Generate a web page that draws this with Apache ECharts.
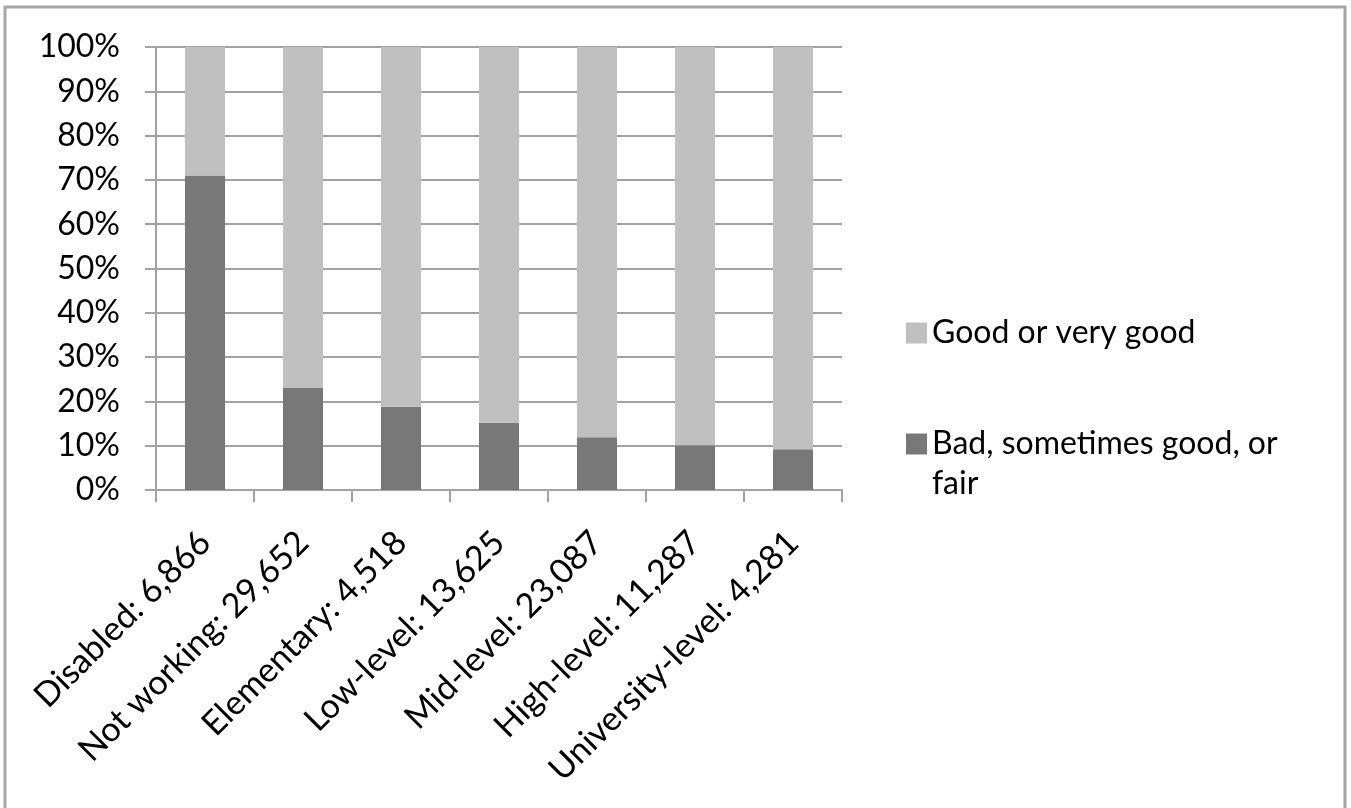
<!DOCTYPE html>
<html>
<head>
<meta charset="utf-8">
<script src="https://cdn.jsdelivr.net/npm/echarts@6/dist/echarts.min.js"></script>
<style>
html,body{margin:0;padding:0;background:#fff;}
#chart{width:1351px;height:808px;}
</style>
</head>
<body>
<div id="chart"></div>
<script>
const categories = ['Disabled: 6,866', 'Not working: 29,652', 'Elementary: 4,518', 'Low-level: 13,625', 'Mid-level: 23,087', 'High-level: 11,287', 'University-level: 4,281'];
const badValues = [71.0, 23.0, 18.8, 15.2, 11.9, 10.1, 9.2];
const goodValues = [29.0, 77.0, 81.2, 84.8, 88.1, 89.9, 90.8];
const seriesNames = ['Bad, sometimes good, or fair', 'Good or very good'];
const yTicks = [0, 10, 20, 30, 40, 50, 60, 70, 80, 90, 100];

const FONT = 'Lato';
const AXIS_GRAY = '#a3a3a3';
const chart = echarts.init(document.getElementById('chart'), null, {renderer: 'canvas'});
chart.setOption({
  animation: false,
  backgroundColor: '#fff',
  textStyle: {fontFamily: FONT, color: '#000'},
  graphic: [{
    type: 'rect', silent: true,
    shape: {x: 5, y: 7, width: 1340, height: 830},
    style: {fill: 'none', stroke: '#a6a6a6', lineWidth: 3}
  }],
  grid: {left: 156, top: 47, width: 686, height: 443, containLabel: false, outerBoundsMode: 'none'},
  legend: [{
    data: [seriesNames[1]],
    left: 901, top: 308,
    orient: 'vertical',
    itemWidth: 21, itemHeight: 21,
    icon: 'rect',
    selectedMode: false,
    textStyle: {fontFamily: FONT, fontSize: 32, lineHeight: 40, color: '#000'}
  }, {
    data: [seriesNames[0]],
    left: 901, top: 419,
    orient: 'vertical',
    itemWidth: 21, itemHeight: 61,
    icon: 'path://M0,0H21V21H0Z M0,61',
    selectedMode: false,
    textStyle: {fontFamily: FONT, fontSize: 32, lineHeight: 40, color: '#000', width: 370, overflow: 'break'}
  }],
  xAxis: {
    type: 'category',
    data: categories,
    boundaryGap: true,
    axisLine: {show: true, lineStyle: {color: AXIS_GRAY, width: 2}},
    axisTick: {show: true, length: 12, inside: false, lineStyle: {color: AXIS_GRAY, width: 2}},
    axisLabel: {
      interval: 0, rotate: 45, margin: 47,
      fontFamily: FONT, fontSize: 34, color: '#000'
    },
    splitLine: {show: false}
  },
  yAxis: {
    type: 'value',
    min: yTicks[0], max: yTicks[yTicks.length - 1], interval: 10,
    axisLine: {show: true, lineStyle: {color: AXIS_GRAY, width: 2}},
    axisTick: {show: true, length: 11, lineStyle: {color: AXIS_GRAY, width: 2}},
    axisLabel: {margin: 36, fontFamily: FONT, fontSize: 32, color: '#000', formatter: '{value}%'},
    splitLine: {show: true, lineStyle: {color: AXIS_GRAY, width: 2}}
  },
  series: [{
    name: seriesNames[0], type: 'bar', stack: 'total',
    barWidth: 40, data: badValues,
    itemStyle: {color: '#787878'}
  }, {
    name: seriesNames[1], type: 'bar', stack: 'total',
    barWidth: 40, data: goodValues,
    itemStyle: {color: '#c0c0c0'}
  }]
});
</script>
</body>
</html>
